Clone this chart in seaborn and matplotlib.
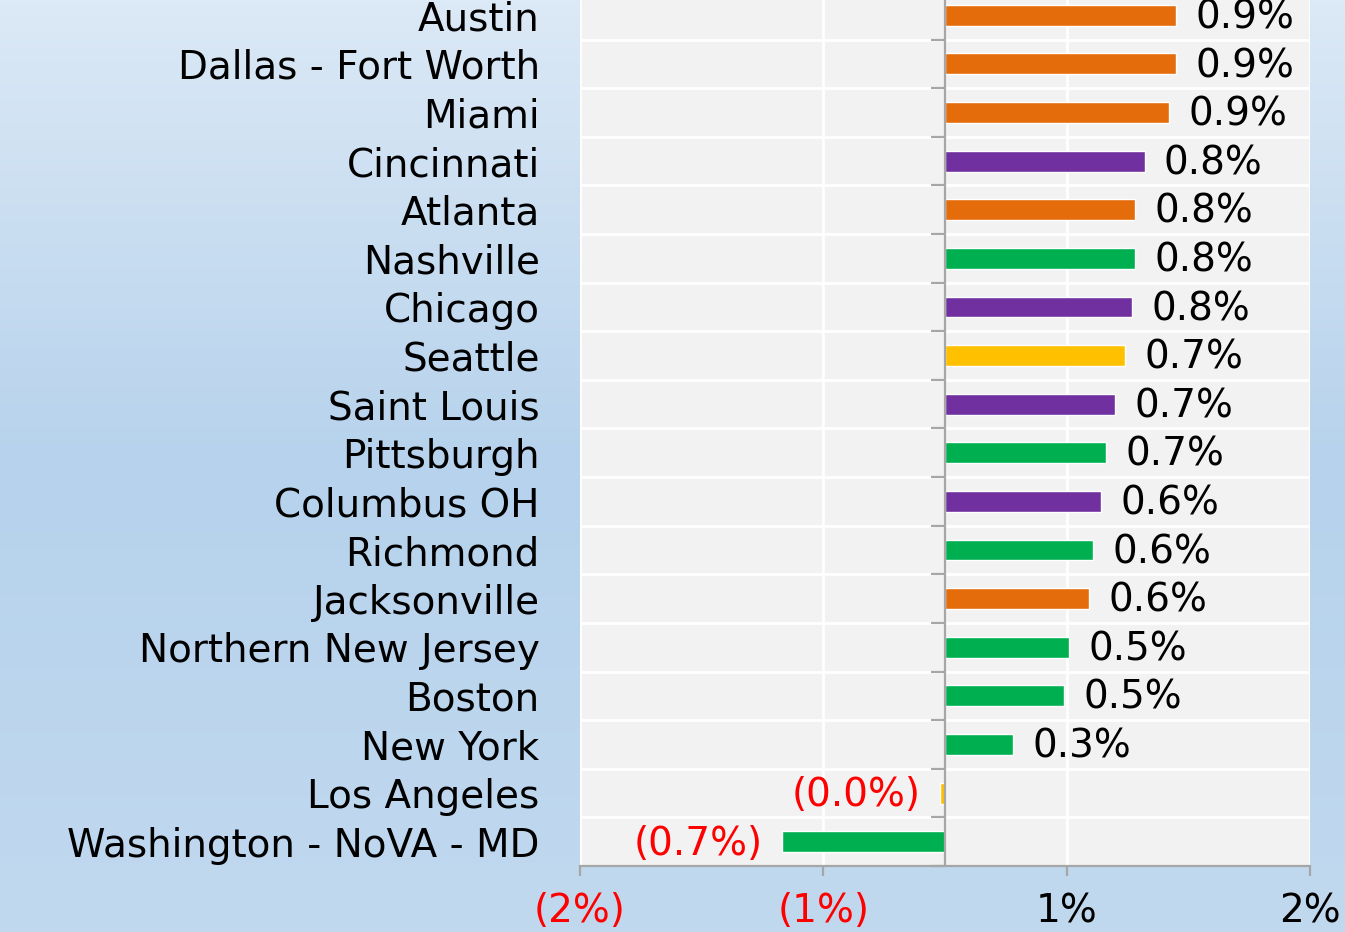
import matplotlib.pyplot as plt
import numpy as np
import pandas as pd
import seaborn as sns
from matplotlib.colors import LinearSegmentedColormap

# Data
cities = ["Austin", "Dallas - Fort Worth", "Miami", "Cincinnati", "Atlanta",
          "Nashville", "Chicago", "Seattle", "Saint Louis", "Pittsburgh",
          "Columbus OH", "Richmond", "Jacksonville", "Northern New Jersey",
          "Boston", "New York", "Los Angeles", "Washington - NoVA - MD"]
growth = [0.95, 0.95, 0.92, 0.82, 0.78, 0.78, 0.77, 0.74, 0.70, 0.66,
          0.64, 0.61, 0.59, 0.51, 0.49, 0.28, -0.02, -0.67]
value_labels = ["0.9%", "0.9%", "0.9%", "0.8%", "0.8%", "0.8%", "0.8%", "0.7%",
                "0.7%", "0.7%", "0.6%", "0.6%", "0.6%", "0.5%", "0.5%", "0.3%",
                "(0.0%)", "(0.7%)"]
region = ["South", "South", "South", "Midwest", "South", "East", "Midwest",
          "West", "Midwest", "East", "Midwest", "East", "South", "East",
          "East", "East", "West", "East"]
# axis runs -1.5% .. 1.5% with a 1% major unit, labels rounded to whole %
x_ticks = [-1.5, -0.5, 0.5, 1.5]
x_tick_labels = ["(2%)", "(1%)", "1%", "2%"]

palette = {"South": "#e46c0a", "Midwest": "#7030a0", "East": "#00b050", "West": "#ffc000"}

df = pd.DataFrame({"city": cities, "growth": growth, "region": region})

sns.set_style("white")
plt.rcParams["font.family"] = ["DejaVu Sans"]
FS = 28
GRAY = "#a6a6a6"

fig = plt.figure(figsize=(13.45, 9.32), dpi=100)

# gradient background
bg = fig.add_axes([0, 0, 1, 1], zorder=-10)
cmap = LinearSegmentedColormap.from_list(
    "bg", [(0, "#dce9f6"), (0.5, "#b6d2ec"), (1, "#c1d9ef")])
bg.imshow(np.linspace(0, 1, 256).reshape(-1, 1), aspect="auto", cmap=cmap,
          extent=[0, 1, 0, 1])
bg.axis("off")

ax = fig.add_axes([580 / 1345, 66 / 932, 730 / 1345, 875 / 932])
ax.set_facecolor("#f2f2f2")

sns.barplot(data=df, x="growth", y="city", hue="region", palette=palette,
            dodge=False, legend=False, width=0.43, saturation=1, ax=ax, zorder=3)

ax.set_xlim(-1.5, 1.5)
ax.set_ylim(len(cities) - 0.5, -0.5)

# gridlines
ax.set_xticks(x_ticks)
ax.set_xticklabels(x_tick_labels)
ax.set_yticks(np.arange(len(cities)) + 0.5, minor=True)
ax.grid(True, axis="x", color="white", linewidth=2, zorder=0)
ax.grid(True, axis="y", which="minor", color="white", linewidth=2, zorder=0)
ax.set_axisbelow(True)

for s in ["top", "right", "left"]:
    ax.spines[s].set_visible(False)
ax.spines["bottom"].set_color(GRAY)
ax.spines["bottom"].set_linewidth(1.6)

ax.tick_params(axis="x", bottom=True, length=7, width=1.6, color=GRAY, pad=12,
               labelsize=FS)
for lbl, v in zip(ax.get_xticklabels(), x_ticks):
    lbl.set_color("red" if v < 0 else "black")

ax.tick_params(axis="y", which="major", left=False, length=0, pad=29,
               labelsize=FS, labelcolor="black")
ax.tick_params(axis="y", which="minor", left=False, length=0)
ax.set_xlabel("")
ax.set_ylabel("")

# zero axis line with tick marks at category boundaries
ax.axvline(0, color=GRAY, linewidth=1.6, zorder=4)
bounds = np.arange(len(cities) + 1) - 0.5
ax.plot(np.zeros_like(bounds), bounds, linestyle="none", marker=0,
        markersize=10, markeredgewidth=1.6, color=GRAY, zorder=4, clip_on=False)

# value labels
for i, (v, t) in enumerate(zip(growth, value_labels)):
    if v >= 0:
        ax.annotate(t, (v, i), xytext=(14, -1.5), textcoords="offset points",
                    ha="left", va="center", fontsize=FS, color="black", zorder=5)
    else:
        ax.annotate(t, (v, i), xytext=(-14, -1.5), textcoords="offset points",
                    ha="right", va="center", fontsize=FS, color="red", zorder=5)

fig.savefig("out.png", dpi=100)
